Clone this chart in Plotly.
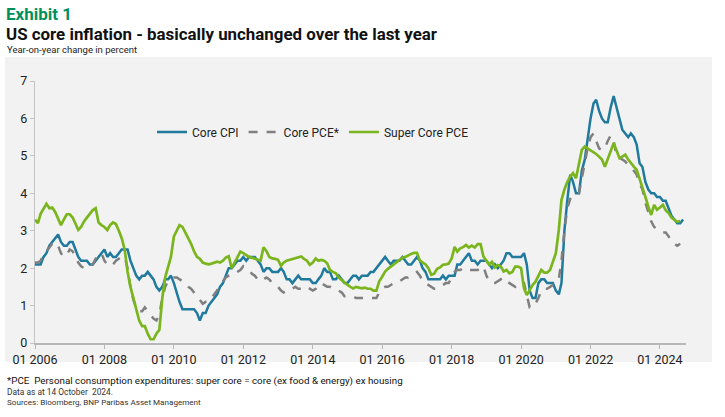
import plotly.graph_objects as go
import pandas as pd

start_month = "2006-01-01"

core_cpi = [
    2.1, 2.1, 2.1, 2.3, 2.4, 2.6, 2.7, 2.8, 2.9, 2.7, 2.6, 2.6,
    2.7, 2.7, 2.5, 2.3, 2.2, 2.2, 2.2, 2.1, 2.1, 2.2, 2.3, 2.4,
    2.5, 2.3, 2.4, 2.3, 2.3, 2.4, 2.5, 2.5, 2.5, 2.2, 2.0, 1.8,
    1.7, 1.8, 1.8, 1.9, 1.8, 1.7, 1.5, 1.4, 1.5, 1.7, 1.7, 1.8,
    1.6, 1.3, 1.1, 0.9, 0.9, 0.9, 0.9, 0.9, 0.8, 0.6, 0.8, 0.8,
    1.0, 1.1, 1.2, 1.3, 1.5, 1.6, 1.8, 2.0, 2.0, 2.1, 2.2, 2.2,
    2.3, 2.2, 2.3, 2.3, 2.3, 2.2, 2.1, 1.9, 2.0, 2.0, 1.9, 1.9,
    1.9, 2.0, 1.9, 1.7, 1.7, 1.6, 1.7, 1.8, 1.7, 1.7, 1.7, 1.7,
    1.6, 1.6, 1.7, 1.8, 2.0, 1.9, 1.9, 1.7, 1.7, 1.8, 1.7, 1.6,
    1.6, 1.7, 1.8, 1.8, 1.7, 1.8, 1.8, 1.8, 1.9, 1.9, 2.0, 2.1,
    2.2, 2.3, 2.2, 2.1, 2.2, 2.2, 2.2, 2.3, 2.2, 2.1, 2.1, 2.2,
    2.3, 2.2, 2.0, 1.9, 1.7, 1.7, 1.7, 1.7, 1.7, 1.8, 1.7, 1.8,
    1.8, 1.8, 2.1, 2.1, 2.2, 2.3, 2.4, 2.2, 2.2, 2.1, 2.2, 2.2,
    2.2, 2.1, 2.0, 2.1, 2.0, 2.1, 2.2, 2.4, 2.4, 2.3, 2.3, 2.3,
    2.3, 2.4, 2.1, 1.4, 1.2, 1.2, 1.6, 1.7, 1.7, 1.6, 1.6, 1.6,
    1.4, 1.3, 1.6, 3.0, 3.8, 4.5, 4.3, 4.0, 4.0, 4.6, 4.9, 5.5,
    6.0, 6.4, 6.5, 6.2, 6.0, 5.9, 5.9, 6.3, 6.6, 6.3, 6.0, 5.7,
    5.6, 5.5, 5.6, 5.5, 5.3, 4.8, 4.7, 4.3, 4.1, 4.0, 4.0, 3.9,
    3.9, 3.8, 3.8, 3.6, 3.4, 3.3, 3.2, 3.2, 3.3,
]

core_pce = [
    2.15, 2.15, 2.2, 2.35, 2.45, 2.55, 2.65, 2.7, 2.6, 2.4, 2.3, 2.35,
    2.5, 2.45, 2.3, 2.15, 2.05, 2.0, 2.0, 2.05, 2.1, 2.25, 2.35, 2.4,
    2.2, 2.1, 2.15, 2.1, 2.2, 2.25, 2.3, 2.3, 2.0, 1.5, 1.15, 0.95,
    0.85, 0.85, 0.95, 0.85, 0.75, 0.65, 0.6, 0.75, 1.2, 1.5, 1.65, 1.7,
    1.75, 1.75, 1.7, 1.65, 1.6, 1.5, 1.45, 1.35, 1.25, 1.15, 1.05, 1.1,
    1.1, 1.2, 1.3, 1.4, 1.55, 1.65, 1.75, 1.8, 1.85, 1.85, 1.9, 1.95,
    2.05, 2.0, 1.95, 1.85, 1.8, 1.7, 1.65, 1.7, 1.75, 1.7, 1.6, 1.55,
    1.5, 1.4, 1.35, 1.4, 1.45, 1.45, 1.5, 1.45, 1.45, 1.45, 1.5, 1.45,
    1.4, 1.45, 1.55, 1.6, 1.55, 1.5, 1.5, 1.45, 1.45, 1.4, 1.35, 1.25,
    1.25, 1.25, 1.25, 1.2, 1.2, 1.2, 1.2, 1.2, 1.2, 1.2, 1.2, 1.35,
    1.45, 1.5, 1.5, 1.55, 1.6, 1.65, 1.65, 1.7, 1.75, 1.75, 1.8, 1.85,
    1.9, 1.8, 1.65, 1.6, 1.55, 1.5, 1.45, 1.45, 1.5, 1.55, 1.6, 1.6,
    1.75, 1.9, 1.95, 1.95, 2.0, 2.0, 1.95, 1.95, 1.95, 1.95, 2.0, 2.05,
    1.8, 1.65, 1.6, 1.6, 1.65, 1.7, 1.75, 1.65, 1.6, 1.55, 1.5, 1.6,
    1.65, 1.6, 1.3, 0.95, 0.95, 1.05, 1.2, 1.4, 1.45, 1.45, 1.5, 1.55,
    1.6, 1.7, 2.2, 3.0, 3.6, 3.85, 3.95, 4.0, 4.0, 4.4, 4.85, 5.2,
    5.5, 5.6, 5.4, 5.2, 5.15, 5.2, 5.4, 5.55, 5.4, 5.0, 4.95, 4.9,
    4.85, 4.75, 4.7, 4.6, 4.5, 4.25, 4.1, 3.75, 3.5, 3.25, 3.1, 3.05,
    3.0, 2.95, 2.95, 2.85, 2.7, 2.65, 2.6, 2.65,
]

super_core_pce = [
    3.3, 3.2, 3.45, 3.6, 3.72, 3.6, 3.62, 3.5, 3.3, 3.15, 3.3, 3.44,
    3.44, 3.35, 3.2, 3.02, 3.1, 3.25, 3.35, 3.45, 3.55, 3.6, 3.22, 3.15,
    3.1, 3.02, 3.15, 3.22, 3.18, 3.0, 2.8, 2.5, 1.9, 1.5, 1.2, 0.95,
    0.6, 0.45, 0.45, 0.25, 0.1, 0.1, 0.25, 0.35, 1.2, 1.75, 2.0, 2.3,
    2.85, 3.0, 3.15, 3.1, 2.95, 2.8, 2.65, 2.45, 2.3, 2.25, 2.15, 2.12,
    2.1, 2.12, 2.15, 2.17, 2.15, 2.2, 2.28, 2.32, 2.0, 2.15, 2.3, 2.44,
    2.4, 2.35, 2.3, 2.28, 2.25, 2.22, 2.2, 2.56, 2.45, 2.3, 2.26, 2.25,
    2.22, 2.06, 2.15, 2.2, 2.22, 2.25, 2.28, 2.3, 2.31, 2.25, 2.2, 2.09,
    2.15, 2.26, 2.2, 2.22, 2.2, 2.13, 1.95, 1.9, 1.86, 1.75, 1.68, 1.6,
    1.55, 1.5, 1.46, 1.5, 1.48, 1.46, 1.48, 1.45, 1.45, 1.4, 1.4, 1.65,
    1.77, 1.91, 1.98, 2.04, 2.1, 2.17, 2.22, 2.28, 2.3, 2.35, 2.38, 2.41,
    2.41, 2.2, 2.15, 2.1, 2.0, 1.82, 1.85, 1.98, 2.02, 2.09, 2.1, 2.12,
    2.26, 2.57, 2.44, 2.53, 2.56, 2.62, 2.55, 2.6, 2.55, 2.64, 2.64, 2.31,
    2.2, 2.09, 2.17, 2.02, 2.08, 2.05, 1.91, 1.95, 1.86, 1.9, 2.04, 2.04,
    2.0, 1.46, 1.28, 1.42, 1.55, 1.64, 1.8, 1.95, 1.88, 1.88, 1.95, 2.15,
    2.4, 3.02, 3.82, 4.1, 4.3, 4.45, 4.54, 4.4, 4.8, 5.16, 5.25, 5.2,
    5.16, 5.11, 5.05, 4.98, 4.9, 4.71, 4.9, 5.11, 5.34, 5.15, 4.94, 4.98,
    5.03, 4.9, 4.8, 4.71, 4.63, 4.4, 4.18, 3.9, 3.64, 3.42, 3.69, 3.56,
    3.62, 3.69, 3.55, 3.47, 3.35, 3.29, 3.24, 3.26,
]

tick_dates = ["2006-01-01", "2008-01-01", "2010-01-01", "2012-01-01", "2014-01-01",
              "2016-01-01", "2018-01-01", "2020-01-01", "2022-01-01", "2024-01-01"]
tick_labels = ["01 2006", "01 2008", "01 2010", "01 2012", "01 2014",
               "01 2016", "01 2018", "01 2020", "01 2022", "01 2024"]
y_ticks = [0, 1, 2, 3, 4, 5, 6, 7]


def months(n):
    return pd.date_range(start_month, periods=n, freq="MS")


BLUE = "#1f7a9e"
GREY = "#7f7f7f"
GREEN = "#7ab51d"
PANEL = "#f2f2f2"
FONT = "Roboto"

fig = go.Figure()
fig.add_trace(go.Scatter(x=months(len(core_cpi)), y=core_cpi, name="Core CPI",
                         mode="lines", line=dict(color=BLUE, width=2.5)))
fig.add_trace(go.Scatter(x=months(len(core_pce)), y=core_pce, name="Core PCE*",
                         mode="lines", line=dict(color=GREY, width=2.5, dash="dash")))
fig.add_trace(go.Scatter(x=months(len(super_core_pce)), y=super_core_pce, name="Super Core PCE",
                         mode="lines", line=dict(color=GREEN, width=2.7)))

L, R, T, B = 35, 39, 81, 74
W, H = 725, 417
pw, ph = W - L - R, H - T - B


def px(xp):
    return (xp - L) / pw


def py(yp):
    return (H - B - yp) / ph


fig.add_shape(type="rect", xref="paper", yref="paper",
              x0=px(5), x1=px(712), y0=py(362), y1=py(57),
              fillcolor=PANEL, line=dict(width=0), layer="below")

annotations = [
    dict(text="<b>Exhibit 1</b>", x=px(4), y=py(14), font=dict(size=17, color="#00915a")),
    dict(text="<b>US core inflation - basically unchanged over the last year</b>", x=px(4), y=py(34),
         font=dict(size=16.9, color="#111111")),
    dict(text="Year-on-year change in percent", x=px(5), y=py(50), font=dict(size=9.5, color="#222222")),
    dict(text="*PCE  Personal consumption expenditures: super core = core (ex food &amp; energy) ex housing",
         x=px(5), y=py(381), font=dict(size=9.8, color="#111111")),
    dict(text="Data as at 14 October  2024.", x=px(5), y=py(392), font=dict(size=8.4, color="#333333")),
    dict(text="Sources: Bloomberg, BNP Paribas Asset Management", x=px(5), y=py(402),
         font=dict(size=8.1, color="#333333")),
]
for a in annotations:
    fig.add_annotation(xref="paper", yref="paper", xanchor="left", yanchor="middle",
                       showarrow=False, font_family=FONT, **a)

fig.update_layout(
    width=W, height=H,
    margin=dict(l=L, r=R, t=T, b=B),
    paper_bgcolor="white",
    plot_bgcolor=PANEL,
    font=dict(family=FONT, size=13, color="#222222"),
    showlegend=True,
    legend=dict(orientation="h", x=px(152), y=py(132), xanchor="left", yanchor="middle",
                bgcolor="rgba(0,0,0,0)", font=dict(size=12, color="#222222"),
                traceorder="normal", itemwidth=30),
    xaxis=dict(range=["2006-01-01", "2024-10-01"], tickmode="array", tickvals=tick_dates,
               ticktext=tick_labels, showgrid=False, zeroline=False, showline=True,
               linecolor="#b8b8b8", linewidth=1.5, ticks="outside", ticklen=4,
               tickcolor="#b8b8b8", tickfont=dict(size=12.5, color="#222222")),
    yaxis=dict(range=[0, 7], tickvals=y_ticks, showgrid=False, zeroline=False, showline=True,
               linecolor="#c4c4c4", linewidth=1.2, ticks="outside", ticklen=4,
               tickcolor="#c4c4c4", tickfont=dict(size=12.5, color="#222222")),
)

fig.write_html("out.html", config={"displayModeBar": False},
               post_script="document.body.style.margin='0';document.body.style.overflow='hidden';")
